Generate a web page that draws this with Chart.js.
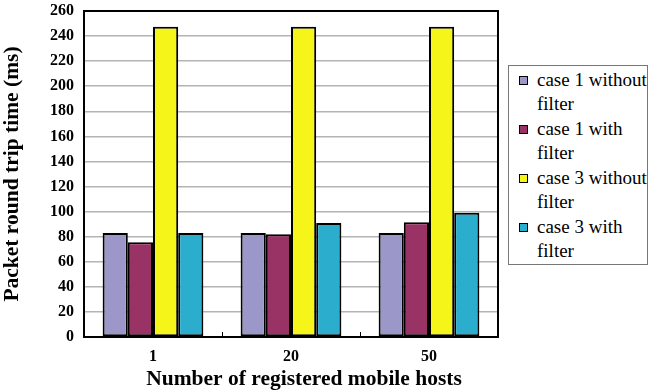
<!DOCTYPE html>
<html>
<head>
<meta charset="utf-8">
<script src="https://cdn.jsdelivr.net/npm/chart.js@4/dist/chart.umd.min.js"></script>
<style>
  html, body { margin: 0; padding: 0; background: #fff; }
  #wrap { position: relative; width: 658px; height: 392px; }
  #legend {
    position: absolute; left: 508px; top: 65px; width: 138px; height: 198px;
    border: 1px solid #777; background: #fff;
    font-family: "Liberation Serif", "Times New Roman", serif; font-size: 19px;
    box-sizing: content-box;
  }
  .item { position: absolute; left: 10px; line-height: 23.5px; }
  .sw {
    position: absolute; left: 0; top: 8px; width: 7px; height: 7px;
    border: 1.5px solid #000;
  }
  .txt { margin-left: 18px; white-space: nowrap; }
</style>
</head>
<body>
<div id="wrap">
  <canvas id="c" width="658" height="392"></canvas>
  <div id="legend"></div>
</div>
<script>
// Round trip time per number of registered mobile hosts
const categories = ['1', '20', '50'];
const seriesNames = [
  ['case 1 without', 'filter'],
  ['case 1 with', 'filter'],
  ['case 3 without', 'filter'],
  ['case 3 with', 'filter']
];
const case1Without = [83, 83, 83];
const case1With = [75.5, 82, 91.5];
const case3Without = [247.5, 247.5, 247.5];
const case3With = [83, 91, 99];
const yTicks = [0, 20, 40, 60, 80, 100, 120, 140, 160, 180, 200, 220, 240, 260];
const colors = ['#9B98C9', '#993366', '#F5F519', '#2BAECE'];
const xTitle = 'Number of registered mobile hosts';
const yTitle = 'Packet round trip time (ms)';

const serif = '"Liberation Serif", "Times New Roman", serif';

// Frame around the plot area, inward ticks between groups, and the x-axis title
const framePlugin = {
  id: 'frame',
  afterDraw(chart) {
    const { ctx, chartArea: a, scales } = chart;
    ctx.save();
    ctx.strokeStyle = '#000';
    ctx.lineWidth = 2;
    ctx.strokeRect(a.left, a.top, a.right - a.left, a.bottom - a.top);
    ctx.lineWidth = 1;
    const x = scales.x;
    for (let i = 1; i < categories.length; i++) {
      const px = Math.round((x.getPixelForValue(i - 1) + x.getPixelForValue(i)) / 2) + 0.5;
      ctx.beginPath();
      ctx.moveTo(px, a.bottom);
      ctx.lineTo(px, a.bottom - 5);
      ctx.stroke();
    }
    ctx.fillStyle = '#000';
    ctx.font = 'bold 21.5px ' + serif;
    ctx.textAlign = 'center';
    ctx.textBaseline = 'middle';
    ctx.fillText(xTitle, (a.left + a.right) / 2 + 13, a.bottom + 42);
    ctx.restore();
  }
};

const values = [case1Without, case1With, case3Without, case3With];

new Chart(document.getElementById('c'), {
  type: 'bar',
  data: {
    labels: categories,
    datasets: values.map((v, i) => ({
      label: seriesNames[i].join(' '),
      data: v,
      backgroundColor: colors[i],
      borderColor: '#000',
      borderWidth: 2,
      borderSkipped: false,
      categoryPercentage: 0.73,
      barPercentage: 1.0
    }))
  },
  options: {
    responsive: false,
    animation: false,
    devicePixelRatio: 1,
    layout: { padding: { left: 0, right: 160, top: 11, bottom: 0 } },
    plugins: {
      legend: { display: false },
      tooltip: { enabled: false }
    },
    scales: {
      x: {
        grid: { display: false },
        border: { display: true, color: '#000', width: 2 },
        ticks: {
          color: '#000',
          padding: 2,
          font: { family: serif, size: 16, weight: 'bold' }
        },
        afterFit(s) {
          s.height = 55;
          s.paddingLeft = 0; s.paddingRight = 0;
        }
      },
      y: {
        min: 0,
        max: 260,
        afterBuildTicks(s) { s.ticks = yTicks.map(v => ({ value: v })); },
        grid: {
          color: '#b4b4b4',
          lineWidth: 1.5,
          drawTicks: false
        },
        border: { display: true, color: '#000', width: 2 },
        ticks: {
          color: '#000',
          padding: 10,
          font: { family: serif, size: 16, weight: 'bold' }
        },
        title: {
          display: true,
          text: yTitle,
          color: '#000',
          padding: { top: 0, bottom: 4 },
          font: { family: serif, size: 21.5, weight: 'bold' }
        },
        afterFit(s) {
          s.width = 84;
          s.paddingTop = 0; s.paddingBottom = 0;
        }
      }
    }
  },
  plugins: [framePlugin]
});

// Legend with wrapped labels
const legend = document.getElementById('legend');
seriesNames.forEach((lines, i) => {
  const item = document.createElement('div');
  item.className = 'item';
  item.style.top = (2 + i * 49) + 'px';
  const sw = document.createElement('span');
  sw.className = 'sw';
  sw.style.background = colors[i];
  item.appendChild(sw);
  lines.forEach(t => {
    const d = document.createElement('div');
    d.className = 'txt';
    d.textContent = t;
    item.appendChild(d);
  });
  legend.appendChild(item);
});
</script>
</body>
</html>
